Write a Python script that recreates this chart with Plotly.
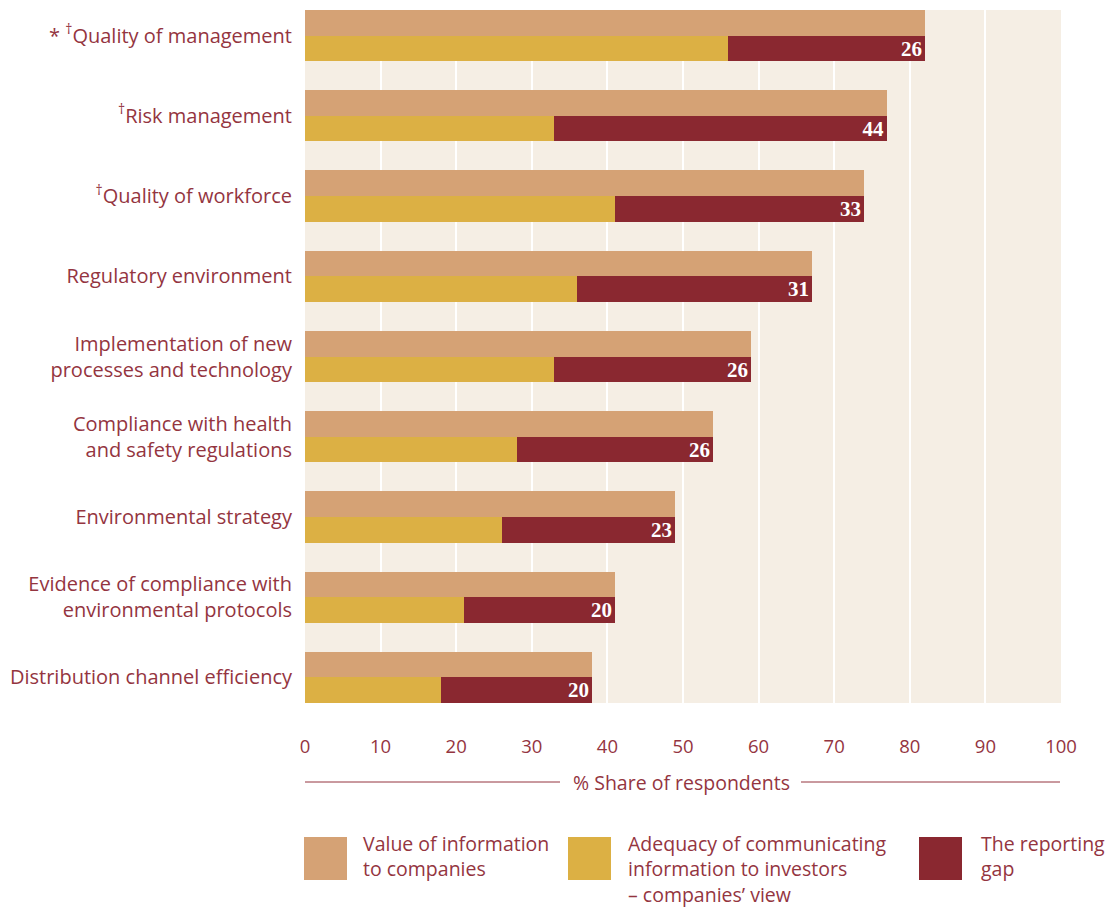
import plotly.graph_objects as go

# Categories, top to bottom
categories = [
    "* <sup>†</sup>Quality of management",
    "<sup>†</sup>Risk management",
    "<sup>†</sup>Quality of workforce",
    "Regulatory environment",
    "Implementation of new<br>processes and technology",
    "Compliance with health<br>and safety regulations",
    "Environmental strategy",
    "Evidence of compliance with<br>environmental protocols",
    "Distribution channel efficiency",
]
value_to_companies = [82, 77, 74, 67, 59, 54, 49, 41, 38]
adequacy_companies_view = [56, 33, 41, 36, 33, 28, 26, 21, 18]
reporting_gap = [26, 44, 33, 31, 26, 26, 23, 20, 20]
x_ticks = [0, 10, 20, 30, 40, 50, 60, 70, 80, 90, 100]

TAN = "#d5a275"
GOLD = "#dcb044"
MAROON = "#8a2830"
TEXT = "#94353f"
BG = "#f5eee4"
FONT = "Open Sans"

W, H = 1120, 907
L, R, T, B = 305, 59, 10, 204
PW, PH = W - L - R, H - T - B

BAR_H = 0.318
idx = list(range(len(categories)))
y_top = [i - BAR_H / 2 for i in idx]
y_bot = [i + BAR_H / 2 for i in idx]

fig = go.Figure()
fig.add_trace(go.Bar(
    orientation="h", y=y_top, x=value_to_companies, width=BAR_H,
    marker=dict(color=TAN, line=dict(width=0)), hoverinfo="x",
    name="Value of information to companies",
))
fig.add_trace(go.Bar(
    orientation="h", y=y_bot, x=adequacy_companies_view, width=BAR_H,
    marker=dict(color=GOLD, line=dict(width=0)), hoverinfo="x",
    name="Adequacy of communicating information to investors",
))
fig.add_trace(go.Bar(
    orientation="h", y=y_bot, x=reporting_gap, base=adequacy_companies_view,
    width=BAR_H, marker=dict(color=MAROON, line=dict(width=0)),
    text=[str(v) for v in reporting_gap], textposition="inside",
    insidetextanchor="end", constraintext="none", textangle=0,
    textfont=dict(family="Liberation Serif", size=21, color="white", weight="bold"),
    hoverinfo="x", name="The reporting gap",
))

fig.update_layout(
    width=W, height=H,
    margin=dict(l=L, r=R, t=T, b=B),
    paper_bgcolor="white", plot_bgcolor=BG,
    barmode="overlay", bargap=0, showlegend=False,
    font=dict(family=FONT, color=TEXT, size=18),
)
fig.update_xaxes(
    range=[0, 100], tickvals=x_ticks, showgrid=True, gridcolor="white",
    gridwidth=2, zeroline=False, showline=False, ticks="outside",
    ticklen=27, tickcolor="rgba(0,0,0,0)", tickfont=dict(size=18.5, color=TEXT),
    fixedrange=True,
)
fig.update_yaxes(
    range=[len(categories) - 1 + BAR_H, -BAR_H], tickvals=idx,
    ticktext=categories, showgrid=False, zeroline=False, showline=False,
    ticks="outside", ticklen=8, tickcolor="rgba(0,0,0,0)",
    tickfont=dict(size=20, color=TEXT), fixedrange=True,
)


def px_x(px):
    return (px - L) / PW


def px_y(py):
    return (H - B - py) / PH


# Axis title flanked by rules
fig.add_annotation(
    x=px_x(681), y=px_y(782), xref="paper", yref="paper",
    text="% Share of respondents", showarrow=False,
    font=dict(size=19.5, color=TEXT), xanchor="center", yanchor="middle",
)
for x0, x1 in [(305, 560), (801, 1060)]:
    fig.add_shape(
        type="line", xref="paper", yref="paper",
        x0=px_x(x0), x1=px_x(x1), y0=px_y(782), y1=px_y(782),
        line=dict(color=TEXT, width=1),
    )

# Legend: swatches with wrapped labels
legend_items = [
    (TAN, 304, 362, "Value of information<br>to companies"),
    (GOLD, 568, 627, "Adequacy of communicating<br>information to investors<br>– companies’ view"),
    (MAROON, 919, 980, "The reporting<br>gap"),
]
for color, sx, tx, label in legend_items:
    fig.add_shape(
        type="rect", xref="paper", yref="paper",
        x0=px_x(sx), x1=px_x(sx + 43), y0=px_y(837), y1=px_y(880),
        fillcolor=color, line=dict(width=0),
    )
    fig.add_annotation(
        x=px_x(tx), y=px_y(829), xref="paper", yref="paper",
        text=label, showarrow=False, align="left",
        xanchor="left", yanchor="top", borderpad=0,
        font=dict(size=19.5, color=TEXT),
    )

fig.write_html("out.html")
